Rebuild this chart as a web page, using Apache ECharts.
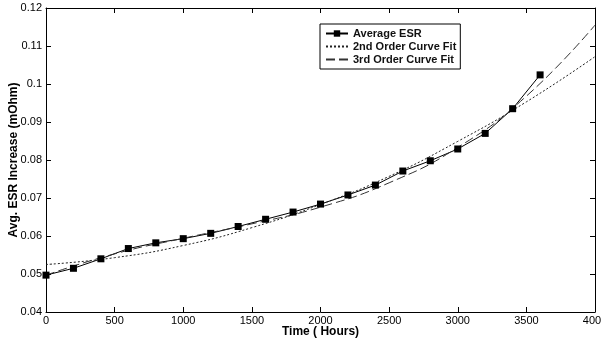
<!DOCTYPE html>
<html>
<head>
<meta charset="utf-8">
<script src="https://cdn.jsdelivr.net/npm/echarts@6/dist/echarts.min.js"></script>
<style>
  html, body { margin: 0; padding: 0; background: #fff; }
  #chart { width: 601px; height: 341px; }
</style>
</head>
<body>
<div id="chart"></div>
<script>
// measured points
const hours = [0, 200, 400, 600, 800, 1000, 1200, 1400, 1600, 1800, 2000, 2200, 2400, 2600, 2800, 3000, 3200, 3400, 3600];
const avgEsr = [0.0497, 0.0515, 0.0540, 0.0567, 0.0582, 0.0593, 0.0607, 0.0625, 0.0644, 0.0663, 0.0684, 0.0708, 0.0734, 0.0771, 0.0798, 0.0829, 0.0870, 0.0935, 0.1024];

// fitted curves
const fitHours = [0, 500, 1000, 1500, 2000, 2500, 3000, 3500, 4000];
const fit2nd = [0.0525, 0.0543, 0.0575, 0.0622, 0.0683, 0.0757, 0.0849, 0.0953, 0.1072];
const fit3rd = [0.0497, 0.0553, 0.0594, 0.0632, 0.0676, 0.0740, 0.0833, 0.0968, 0.1155];

const seriesNames = ['Average ESR', '2nd Order Curve Fit', '3rd Order Curve Fit'];

const pairs = (xs, ys) => xs.map((x, i) => [x, ys[i]]);

const font = 'Liberation Sans, Arial, sans-serif';
const axisBase = {
  axisLine: {show: true, onZero: false, lineStyle: {color: '#000', width: 1}},
  axisTick: {show: true, inside: true, length: 5, lineStyle: {color: '#000'}},
  splitLine: {show: false},
};

const chart = echarts.init(document.getElementById('chart'));
chart.setOption({
  backgroundColor: '#fff',
  animation: false,
  grid: {left: 46, right: 6, top: 8, bottom: 29, outerBoundsMode: 'none'},
  legend: {
    data: [
      {name: seriesNames[0]},
      {name: seriesNames[1], itemStyle: {opacity: 0}},
      {name: seriesNames[2], itemStyle: {opacity: 0}}
    ],
    orient: 'vertical',
    left: 320,
    top: 24,
    padding: [4, 4, 4, 5],
    itemGap: 2,
    itemWidth: 22,
    itemHeight: 8,
    borderColor: '#000',
    borderWidth: 1,
    backgroundColor: '#fff',
    textStyle: {fontFamily: font, fontSize: 11, fontWeight: 'bold', color: '#111'}
  },
  xAxis: [{
    ...axisBase,
    type: 'value',
    min: 0, max: 4000, interval: 500,
    name: 'Time ( Hours)',
    nameLocation: 'middle',
    nameGap: 14,
    nameMoveOverlap: false,
    nameTextStyle: {fontFamily: font, fontSize: 12, fontWeight: 'bold', color: '#000'},
    axisLabel: {fontFamily: font, fontSize: 11, color: '#000', margin: 3, formatter: v => String(v)}
  }, {
    ...axisBase,
    type: 'value',
    position: 'top',
    min: 0, max: 4000, interval: 500,
    axisLabel: {show: false}
  }],
  yAxis: [{
    ...axisBase,
    type: 'value',
    min: 0.04, max: 0.12, interval: 0.01,
    name: 'Avg. ESR Increase (mOhm)',
    nameLocation: 'middle',
    nameGap: 26,
    nameMoveOverlap: false,
    nameTextStyle: {fontFamily: font, fontSize: 12, fontWeight: 'bold', color: '#000'},
    axisLabel: {
      fontFamily: font, fontSize: 11, color: '#000', margin: 4,
      formatter: v => String(+v.toFixed(2))
    }
  }, {
    ...axisBase,
    type: 'value',
    position: 'right',
    min: 0.04, max: 0.12, interval: 0.01,
    axisLabel: {show: false}
  }],
  series: [{
    name: seriesNames[0],
    type: 'line',
    data: pairs(hours, avgEsr),
    symbol: 'rect',
    symbolSize: 7,
    color: '#000',
    lineStyle: {color: '#000', width: 1},
    itemStyle: {color: '#000'},
    z: 3
  }, {
    name: seriesNames[1],
    type: 'line',
    data: pairs(fitHours, fit2nd),
    smooth: true,
    symbol: 'none',
    color: '#222',
    lineStyle: {color: '#222', width: 1, type: [2, 2]}
  }, {
    name: seriesNames[2],
    type: 'line',
    data: pairs(fitHours, fit3rd),
    smooth: true,
    symbol: 'none',
    color: '#333',
    lineStyle: {color: '#333', width: 1, type: [9, 4]}
  }]
});
</script>
</body>
</html>
